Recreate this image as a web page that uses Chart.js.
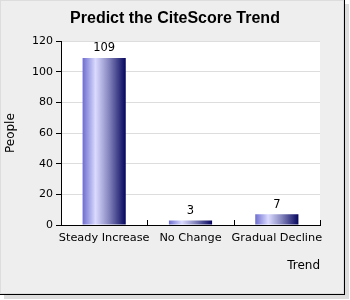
<!DOCTYPE html>
<html lang="en">
<head>
<meta charset="UTF-8">
<title>Predict the CiteScore Trend</title>
<script src="https://cdn.jsdelivr.net/npm/chart.js"></script>
<style>
  html, body { margin: 0; padding: 0; background: #fff; }
  #chart { display: block; }
</style>
</head>
<body>
<canvas id="chart" width="350" height="300"></canvas>
<script>
// data
const categories = ['Steady Increase', 'No Change', 'Gradual Decline'];
const people = [109, 3, 7];
const yTicks = [0, 20, 40, 60, 80, 100, 120];

const uiFont = 'DejaVu Sans';

// grey frame with a drop shadow on the right and bottom
const framePlugin = {
  id: 'frame',
  beforeDraw(chart) {
    const c = chart.ctx;
    c.save();
    c.fillStyle = '#ffffff';
    c.fillRect(0, 0, 350, 300);
    const shades = ['#555', '#777', '#999', '#bbb', '#ddd'];
    shades.forEach(function(col, i) {
      c.fillStyle = col;
      c.fillRect(4, 4, 341 + i, 291 + i);
    });
    c.fillStyle = '#eeeeee';
    c.fillRect(0, 0, 344, 294);
    c.fillStyle = '#000';
    c.fillRect(343, 0, 2, 295);
    c.fillRect(0, 293, 345, 2);
    c.strokeStyle = '#dddddd';
    c.lineWidth = 1;
    c.strokeRect(0.5, 0.5, 343, 293);
    // white plot area
    const a = chart.chartArea;
    c.fillStyle = '#ffffff';
    c.fillRect(a.left, a.top, a.right - a.left, a.bottom - a.top);
    c.restore();
  }
};

// value labels on bars + small inward ticks on the category axis
const labelPlugin = {
  id: 'barLabels',
  afterDraw(chart) {
    const c = chart.ctx;
    const x = chart.scales.x;
    const a = chart.chartArea;
    c.save();
    c.strokeStyle = '#000';
    c.lineWidth = 1;
    const step = (a.right - a.left) / categories.length;
    for (let i = 1; i <= categories.length; i++) {
      const px = Math.round(x.getPixelForValue(i - 1) + step / 2) + 0.5;
      c.beginPath();
      c.moveTo(px, a.bottom);
      c.lineTo(px, a.bottom - 5);
      c.stroke();
    }
    c.fillStyle = '#000';
    c.font = '11.5px ' + uiFont;
    c.textAlign = 'center';
    c.textBaseline = 'bottom';
    chart.getDatasetMeta(0).data.forEach(function(bar, i) {
      c.fillText(String(people[i]), bar.x, bar.y - 4);
    });
    c.restore();
  }
};

function barGradient(context) {
  const chart = context.chart;
  const x = chart.scales.x;
  if (!x || !chart.chartArea) return '#6f6fc8';
  const half = (chart.chartArea.right - chart.chartArea.left) / categories.length * 0.5 / 2;
  const cx = x.getPixelForValue(context.dataIndex);
  const g = chart.ctx.createLinearGradient(cx - half, 0, cx + half, 0);
  g.addColorStop(0, '#6d6dd0');
  g.addColorStop(0.3, '#dadaff');
  g.addColorStop(0.6, '#8888c0');
  g.addColorStop(1, '#05055e');
  return g;
}

new Chart(document.getElementById('chart'), {
  type: 'bar',
  data: {
    labels: categories,
    datasets: [{
      label: 'People',
      data: people,
      backgroundColor: barGradient,
      borderWidth: 0,
      barPercentage: 0.5,
      categoryPercentage: 1.0
    }]
  },
  options: {
    responsive: false,
    animation: false,
    devicePixelRatio: 1,
    layout: { padding: { left: 0, right: 0, top: 0, bottom: 27 } },
    plugins: {
      legend: { display: false },
      tooltip: { enabled: false },
      title: {
        display: true,
        text: 'Predict the CiteScore Trend',
        color: '#000',
        font: { family: 'Liberation Sans', size: 16, weight: 'bold', lineHeight: 1.2 },
        padding: { top: 9, bottom: 13 }
      }
    },
    scales: {
      y: {
        min: 0,
        max: 120,
        afterBuildTicks(scale) { scale.ticks = yTicks.map(v => ({ value: v })); },
        afterFit(scale) { scale.width = 61; },
        border: { color: '#000', width: 1 },
        grid: { color: '#dddddd', tickColor: '#000', tickLength: 5 },
        ticks: { color: '#000', padding: 3, font: { family: uiFont, size: 11 } },
        title: {
          display: true,
          text: 'People',
          color: '#000',
          font: { family: uiFont, size: 12 },
          padding: { top: 4, bottom: 0 }
        }
      },
      // empty right-hand strip so the plot ends where the reference does
      spacer: {
        position: 'right',
        display: true,
        afterFit(scale) { scale.width = 30; },
        grid: { display: false },
        border: { display: false },
        ticks: { display: false }
      },
      x: {
        afterFit(scale) { scale.height = 48; },
        border: { color: '#000', width: 1 },
        grid: { display: false },
        ticks: { color: '#000', padding: -2, maxRotation: 0, autoSkip: false, font: { family: uiFont, size: 11.3 } },
        title: {
          display: true,
          text: 'Trend',
          align: 'end',
          color: '#000',
          font: { family: uiFont, size: 12 },
          padding: 0
        }
      }
    }
  },
  plugins: [framePlugin, labelPlugin]
});
</script>
</body>
</html>
